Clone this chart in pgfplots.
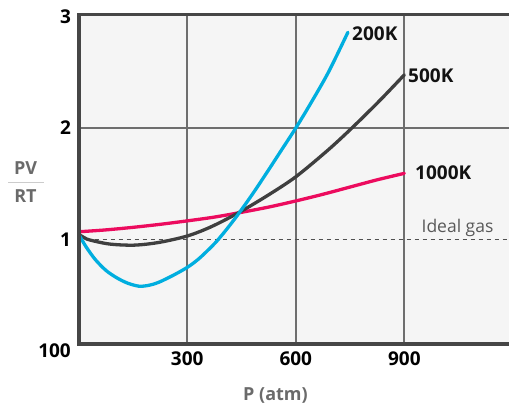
\documentclass[border=0pt]{standalone}
\usepackage{fontspec}
\setmainfont{Open Sans}
\usepackage{pgfplots}
\pgfplotsset{compat=1.18}
\definecolor{bgc}{HTML}{F5F5F5}
\definecolor{gridc}{HTML}{6E6E6E}
\definecolor{framec}{HTML}{464646}
\definecolor{bluec}{HTML}{00AEDF}
\definecolor{blackc}{HTML}{3F3F3F}
\definecolor{pinkc}{HTML}{EC0B5E}
\definecolor{labelc}{HTML}{6A6A6A}
\definecolor{dashc}{HTML}{505050}
\newcommand\tickfont{\fontsize{19bp}{22bp}\selectfont\bfseries}
\newcommand\labfont{\fontsize{18bp}{20bp}\selectfont\bfseries}
\begin{document}
\begin{tikzpicture}
\useasboundingbox (0,0) rectangle (509bp,405bp);
\begin{axis}[name=ax, at={(78.7bp,61bp)}, anchor=south west,
  scale only axis, width=430.3bp, height=329.5bp,
  xmin=0, xmax=1189.3, ymin=0.06, ymax=3.02,
  axis line style={draw=none},
  axis background/.style={fill=bgc},
  xtick={300,600,900}, ytick={1,2,3},
  major tick length=0pt,
  xmajorgrids, grid style={gridc, line width=1.8bp},
  tick label style={font=\tickfont, text=black},
  yticklabel style={anchor=east, inner sep=0pt, xshift=-7.5bp},
  xticklabel style={anchor=north, inner sep=0pt, yshift=-8bp},
  /pgf/number format/assume math mode=true,
]
% horizontal grid line at 2
\addplot[gridc, line width=1.8bp, forget plot] coordinates {(0,2) (1189.3,2)};
% ideal gas
\addplot[dashc, line width=1.5bp, dash pattern=on 4.5bp off 3.5bp, forget plot] coordinates {(0,1) (1189.3,1)};
% 1000K
\addplot[pinkc, line width=3.3bp, smooth, line cap=round] coordinates {
(0,1.068) (75,1.085) (150,1.108) (225,1.135) (300,1.166) (375,1.200) (450,1.243)
(525,1.290) (600,1.345) (675,1.405) (750,1.470) (825,1.535) (900,1.593)};
% 500K
\addplot[blackc, line width=3.3bp, smooth, line cap=round] coordinates {
(0,1.045) (15,1.016) (30,0.995) (85,0.958) (153,0.948) (221,0.972) (300,1.030) (366,1.113)
(440,1.236) (520,1.390) (600,1.562) (689,1.802) (755,2.000) (830,2.240) (900,2.478)};
% 200K
\addplot[bluec, line width=3.3bp, smooth, line cap=round] coordinates {
(0,1.045) (20,0.935) (45,0.822) (75,0.722) (105,0.655) (135,0.607) (167,0.579) (195,0.588)
(221,0.614) (260,0.675) (300,0.748) (330,0.820) (358,0.905) (382,0.985) (410,1.095)
(440,1.222) (480,1.405) (522,1.610) (560,1.800) (600,2.000) (640,2.215) (690,2.500) (744,2.860)};
\node[font=\tickfont, text=black!93, anchor=west, inner sep=0pt] at (axis cs:755.4,2.851) {200K};
\node[font=\tickfont, text=black!93, anchor=west, inner sep=0pt] at (axis cs:910.2,2.472) {500K};
\node[font=\tickfont, text=black!93, anchor=west, inner sep=0pt] at (axis cs:929.5,1.601) {1000K};
\node[font=\fontsize{17.5bp}{20bp}\selectfont, text=black!65, anchor=base, inner sep=0pt] at (axis cs:1047,1.064) {Ideal gas};
\end{axis}
\draw[framec, line width=3.6bp, line join=miter] (ax.north east) -- (ax.north west) -- (ax.south west) -- (ax.south east);
\node[font=\tickfont, text=black, anchor=east, inner sep=0pt] at (71bp,54.7bp) {100};
\node[font=\labfont, text=labelc, anchor=base, inner sep=0pt] at (275.5bp,5bp) {P (atm)};
\node[font=\labfont, text=labelc, anchor=base, inner sep=0pt] at (25.5bp,230bp) {PV};
\draw[black!20, line width=0.9bp] (8bp,223bp) -- (44bp,223bp);
\node[font=\labfont, text=labelc, anchor=base, inner sep=0pt] at (25.5bp,202bp) {RT};
\end{tikzpicture}
\end{document}
